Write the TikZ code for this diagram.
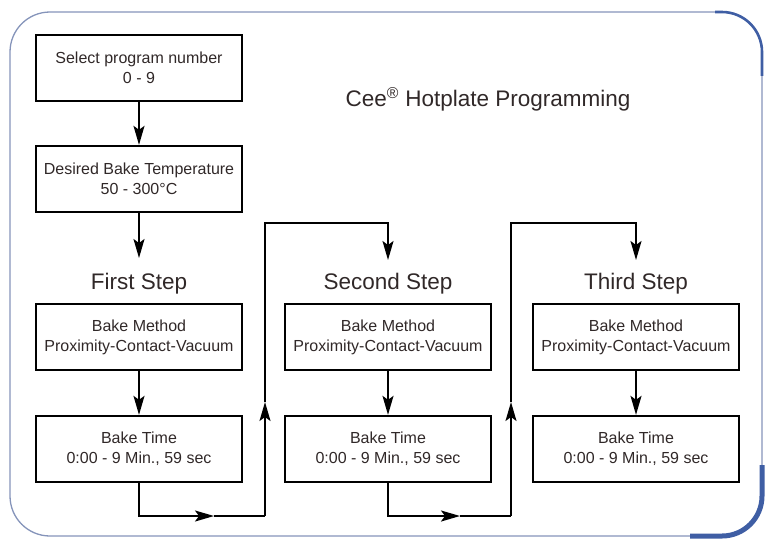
\documentclass[tikz,border=0pt]{standalone}
\usepackage{fontspec}
\setmainfont{Liberation Sans}
\usetikzlibrary{arrows.meta,positioning}
\definecolor{framec}{HTML}{8594BA}
\definecolor{shadowc}{HTML}{3F5EA4}
\definecolor{txt}{HTML}{302828}

\begin{document}
\begin{tikzpicture}
[x=1pt,y=-1pt,>={Stealth[length=19pt,width=11pt,inset=4pt]},
 box/.style = {draw, line width=2.3pt, minimum width=206pt, minimum height=66pt, inner sep=0pt, align=center, text=txt, font=\fontsize{16}{20}\selectfont},
 head/.style = {anchor=base, text=txt, font=\fontsize{22.5}{26}\selectfont},
 link/.style = {line width=1.8pt},
 frame/.style = {rounded corners=40pt},]
\useasboundingbox (0,0) rectangle (765,539);
% frame
\draw[framec, line width=1.3pt, frame] (10,12) rectangle (762,536);
\begin{scope}
\clip (715,0) rectangle (765,75);
\draw[shadowc, line width=2.6pt, frame] (10,12) rectangle (762,536);
\end{scope}
\begin{scope}
\clip (690,465) rectangle (765,539);
\draw[shadowc, line width=5pt, frame] (10,12) rectangle (762,536);
\end{scope}
% title
\node (T) at (488,106)[head] {Cee\textsuperscript{®} Hotplate Programming};
% boxes
\node (S) at (139,68)[box] {Select program number\\0 - 9};
\node (D) at (139,179)[box] {Desired Bake Temperature\\50 - 300°C};
\node (H1) at (139,289)[head] {First Step};
\node (H2) at (388,289)[head] {Second Step};
\node (H3) at (636,289)[head] {Third Step};
\node (M1) at (139,337)[box] {Bake Method\\Proximity-Contact-Vacuum};
\node (M2) at (388,337)[box] {Bake Method\\Proximity-Contact-Vacuum};
\node (M3) at (636,337)[box] {Bake Method\\Proximity-Contact-Vacuum};
\node (B1) at (139,449)[box] {Bake Time\\0:00 - 9 Min., 59 sec};
\node (B2) at (388,449)[box] {Bake Time\\0:00 - 9 Min., 59 sec};
\node (B3) at (636,449)[box] {Bake Time\\0:00 - 9 Min., 59 sec};
% turning points
\coordinate (in1) at (139,258);
\coordinate (in2) at (388,260);
\coordinate (in3) at (636,260);
\coordinate (m1) at (214,516);
\coordinate (m2) at (460,516);
\coordinate (c1) at (265,516);
\coordinate (c2) at (511,516);
\coordinate (u1) at (265,402);
\coordinate (u2) at (511,402);
\coordinate (t1) at (265,223);
\coordinate (t2) at (511,223);
% arrows
\draw[link,->] (S)--(D);
\draw[link,->] (D)--(in1);
\draw[link,->] (M1)--(B1);
\draw[link,->] (M2)--(B2);
\draw[link,->] (M3)--(B3);
\draw[link,->] (B1.south) |- (m1);
\draw[link] (m1)--(c1);
\draw[link,->] (c1)--(u1);
\draw[link,->] (u1)--(t1) -| (in2);
\draw[link,->] (B2.south) |- (m2);
\draw[link] (m2)--(c2);
\draw[link,->] (c2)--(u2);
\draw[link,->] (u2)--(t2) -| (in3);
\end{tikzpicture}
\end{document}
